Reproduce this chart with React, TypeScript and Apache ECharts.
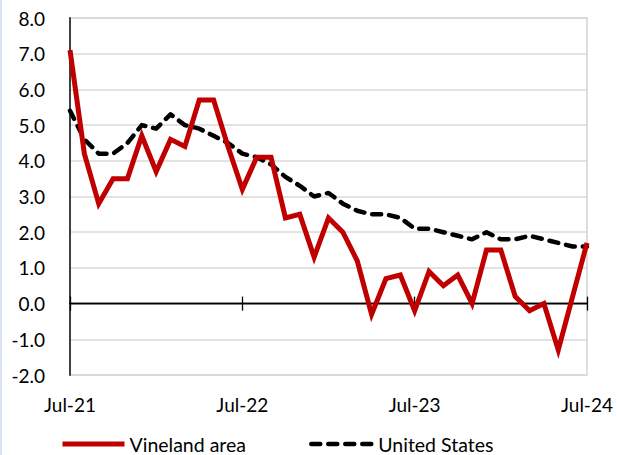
import React, { useEffect, useRef } from "react";
import * as echarts from "echarts";

const categories = [
  "Jul-21","Aug-21","Sep-21","Oct-21","Nov-21","Dec-21","Jan-22","Feb-22","Mar-22","Apr-22","May-22","Jun-22",
  "Jul-22","Aug-22","Sep-22","Oct-22","Nov-22","Dec-22","Jan-23","Feb-23","Mar-23","Apr-23","May-23","Jun-23",
  "Jul-23","Aug-23","Sep-23","Oct-23","Nov-23","Dec-23","Jan-24","Feb-24","Mar-24","Apr-24","May-24","Jun-24",
  "Jul-24",
];

const vineland = [
  7.1, 4.2, 2.8, 3.5, 3.5, 4.7, 3.7, 4.6, 4.4, 5.7, 5.7, 4.4,
  3.2, 4.1, 4.1, 2.4, 2.5, 1.3, 2.4, 2.0, 1.2, -0.3, 0.7, 0.8,
  -0.2, 0.9, 0.5, 0.8, 0.0, 1.5, 1.5, 0.2, -0.2, 0.0, -1.3, 0.2,
  1.7,
];

const unitedStates = [
  5.4, 4.6, 4.2, 4.2, 4.5, 5.0, 4.9, 5.3, 5.0, 4.9, 4.7, 4.5,
  4.2, 4.1, 3.9, 3.55, 3.3, 3.0, 3.1, 2.8, 2.6, 2.5, 2.5, 2.4,
  2.1, 2.1, 2.0, 1.9, 1.8, 2.0, 1.8, 1.8, 1.9, 1.8, 1.7, 1.6,
  1.6,
];

const yMin = -2;
const yMax = 8;
const yInterval = 1;

const FONT = "Lato";

export default function App() {
  const ref = useRef<HTMLDivElement>(null);

  useEffect(() => {
    if (!ref.current) return;
    const chart = echarts.init(ref.current, null, { renderer: "svg" });
    const zeroAxis = (inside: boolean) => ({
      type: "category",
      data: categories,
      boundaryGap: false,
      position: "bottom",
      axisLine: { show: true, onZero: true, onZeroAxisIndex: 0, lineStyle: { color: "#000", width: 1.3 } },
      axisTick: { show: true, inside, interval: 11, length: 7, lineStyle: { color: "#000", width: 1.3 } },
      axisLabel: { show: false },
      splitLine: { show: false },
    });
    chart.setOption({
      animation: false,
      backgroundColor: "#ffffff",
      graphic: [
        {
          type: "rect",
          shape: { x: 0, y: 0, width: 2, height: 455 },
          style: { fill: "#dae3f3" },
          silent: true,
        },
      ],
      grid: {
        left: 70,
        right: 30,
        top: 18,
        bottom: 80,
        show: true,
        borderColor: "#d4d4d4",
        borderWidth: 1.5,
        backgroundColor: "transparent",
      },
      legend: {
        left: 55,
        top: 429,
        itemWidth: 62,
        itemHeight: 16,
        itemGap: 63,
        itemStyle: { opacity: 0 },
        textStyle: { fontFamily: FONT, fontSize: 19.5, color: "#000" },
        data: [
          { name: "Vineland area", lineStyle: { width: 5, color: "#c00000" } },
          { name: "United States", lineStyle: { width: 4.5, color: "#000", type: [9, 8], cap: "round" } },
        ],
      },
      xAxis: [
        {
          type: "category",
          data: categories,
          boundaryGap: false,
          position: "bottom",
          axisLine: { show: false, onZero: false },
          axisTick: { show: false },
          splitLine: { show: false },
          axisLabel: {
            interval: 11,
            margin: 20,
            fontFamily: FONT,
            fontSize: 19,
            color: "#000",
            showMaxLabel: true,
          },
        },
        zeroAxis(false),
        zeroAxis(true),
      ],
      yAxis: {
        type: "value",
        min: yMin,
        max: yMax,
        interval: yInterval,
        axisLine: { show: true, lineStyle: { color: "#404040", width: 2 } },
        axisTick: { show: false },
        splitLine: { show: true, lineStyle: { color: "#d9d9d9", width: 1.5 } },
        axisLabel: {
          margin: 25,
          fontFamily: FONT,
          fontSize: 19,
          color: "#000",
          formatter: (v: number) => v.toFixed(1),
        },
      },
      series: [
        {
          name: "United States",
          type: "line",
          data: unitedStates,
          xAxisIndex: 0,
          symbol: "none",
          showSymbol: false,
          z: 3,
          lineStyle: { color: "#000000", width: 4.5, type: [9, 8], cap: "round", join: "round" },
          itemStyle: { color: "#000000" },
        },
        {
          name: "Vineland area",
          type: "line",
          data: vineland,
          xAxisIndex: 0,
          symbol: "none",
          showSymbol: false,
          z: 4,
          lineStyle: { color: "#c00000", width: 5, join: "miter" },
          itemStyle: { color: "#c00000" },
        },
      ],
    });
    return () => chart.dispose();
  }, []);

  return <div ref={ref} style={{ width: 617, height: 455, position: "absolute", left: 0, top: 0 }} />;
}
